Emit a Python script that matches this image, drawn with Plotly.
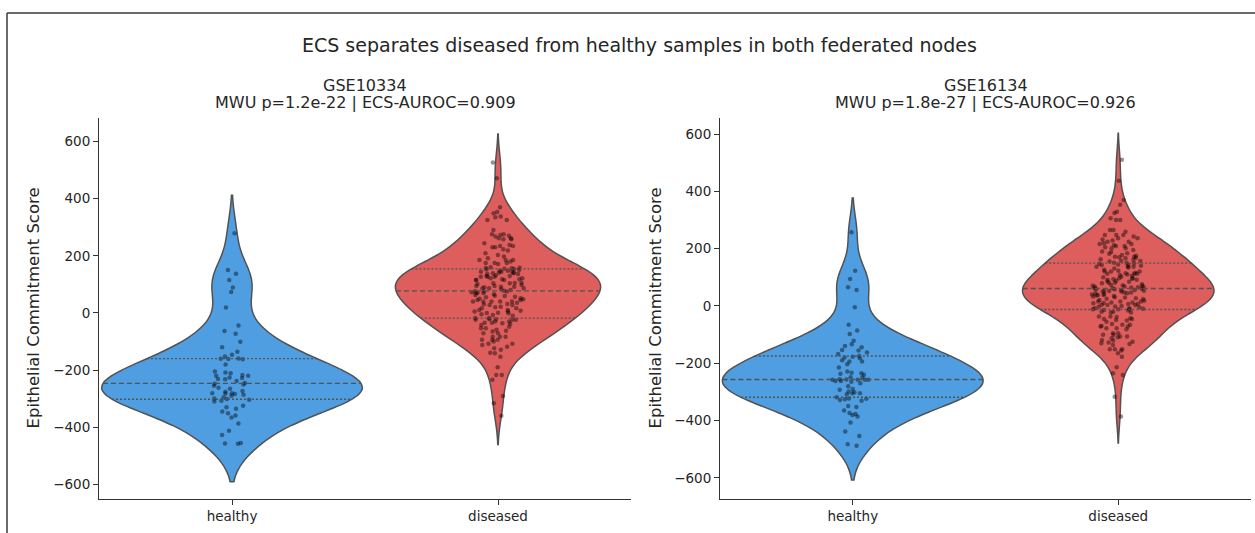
import math
import numpy as np
import plotly.graph_objects as go

# ---------------- data ----------------
categories = ["healthy", "diseased"]

gse10334_healthy = [279, 150, 137, 73, 115, 89, 19, -44, -63, -73, -101, -120, -136, -146,
                    -152, -161, -162, -160, -159, -180, -211, -205, -220, -220, -208, -226,
                    -217, -232, -231, -238, -245, -262, -250, -273, -276, -282, -284, -281,
                    -281, -286, -299, -310, -295, -301, -307, -304, -325, -330, -335, -345,
                    -351, -359, -366, -387, -412, -427, -455, -457, -458,
                    -255, -265, -290, -228, -248]

gse10334_diseased = [526, 471, 370, 353, 335, 337, 349, 325, 325, 290, 270, 275, 275, 273, 261,
                     258, 261, 258, 267, 244, 230, 230, 223, 238, 234, 234, 218, 209, 197, 203,
                     191, 185, 185, 180, 171, 156, 175, 160, 175, 158, 175, 155, 152, 185, 157,
                     154, 150, 144, 148, 141, 139, 148, 144, 136, 139, 136, 141, 127, 115, 104,
                     127, 115, 106, 127, 121, 129, 118, 121, 129, 104, 115, 101, 94, 86, 92, 83,
                     78, 71, 75, 90, 94, 86, 92, 98, 86, 80, 69, 75, 63, 51, 40, 57, 45, 59, 40,
                     48, 36, 45, 31, 40, 28, 40, 28, 16, 22, 8, 16, 5, 10, -1, 1, 5, -7, -24, -30,
                     -22, -34, -18, -42, -36, -24, -30, -38, -22, -34, -24, -18, -54, -62, -71,
                     -83, -54, -65, -48, -59, -71, -83, -94, -100, -94, -83, -108, -118, -112,
                     -108, -94, -129, -141, -153, -124, -139, -217, -190, -217, -234, -291, -316,
                     -360,
                     60, 70, 76, 0, -10, 30, 105, 118, 132, 145, 50, 40, 20, 65, 72, 10, -5, 55]

gse16134_healthy = [257, 56, 123, 94, 65, -5, -66, -86, -98, -134, -122, -140, -154, -144, -156,
                    -163, -180, -194, -168, -177, -194, -183, -204, -235, -237, -229, -233, -258,
                    -258, -258, -258, -249, -256, -262, -265, -257, -299, -293, -305, -301, -305,
                    -308, -326, -324, -331, -323, -328, -319, -349, -365, -353, -374, -377, -381,
                    -386, -407, -438, -454, -483, -488,
                    -250, -262, -270, -280, -240, -215, -190, -175, -290]

gse16134_diseased = [510, 437, 370, 353, 329, 324, 300, 306, 300, 259, 248, 265, 248, 224, 209, 216,
                     201, 265, 248, 236, 236, 219, 224, 209, 216, 201, 190, 184, 172, 166, 172, 163,
                     170, 161, 149, 140, 143, 137, 147, 137, 151, 143, 151, 137, 123, 114, 120, 112,
                     120, 112, 116, 108, 120, 112, 97, 88, 93, 85, 97, 81, 91, 79, 91, 81, 67, 62,
                     70, 56, 65, 58, 73, 62, 70, 65, 47, 38, 44, 50, 42, 47, 38, 53, 44, 50, 21, 12,
                     15, 7, 15, 3, 12, 3, 15, 7, -8, -16, -12, -20, -12, -23, -14, -20, -12, -23, -8,
                     -37, -46, -39, -49, -43, -51, -37, -46, -55, -72, -66, -78, -70, -81, -66, -78,
                     -72, -63, -101, -109, -95, -107, -113, -101, -107, -95, -130, -121, -128, -136,
                     -125, -133, -119, -151, -156, -151, -151, -165, -177, -214, -235, -241, -317,
                     -386,
                     155, 158, 178, 182, 195, 205, 212, 228, 242, 188, 168, 157, 175, 232,
                     64, 68, 72, 76, 84, 95, 102, 105, 110, 126, 131, 134, 145, 100,
                     -10, -5, -2, 0, 4, 9, 18, 24, 27, 30, 33, 35, 40, 52, 55, 58, 60, 25, 29, 36,
                     53, 10, -3]

panel_titles = ["GSE10334", "GSE16134"]
panel_stats = ["MWU p=1.2e-22 | ECS-AUROC=0.909", "MWU p=1.8e-27 | ECS-AUROC=0.926"]
main_title = "ECS separates diseased from healthy samples in both federated nodes"
y_label = "Epithelial Commitment Score"
y_ticks = [-600, -400, -200, 0, 200, 400, 600]

# ---------------- styling ----------------
W, H = 1255, 533
fill_colors = ["#4f9ee1", "#de5d5d"]
edge_color = "#525252"
text_color = "#262626"
axis_color = "#333333"
FONT = "DejaVu Sans"
# full violin widths (x data units) per panel: healthy, diseased
violin_widths = [[0.98, 0.77], [0.98, 0.72]]


def scott_bw(vals):
    x = np.asarray(vals, dtype=float)
    return len(x) ** (-1 / 5) * x.std(ddof=1)


def kde_on(vals, bw, t):
    x = np.asarray(vals, dtype=float)
    t = np.atleast_1d(np.asarray(t, dtype=float))
    return np.exp(-0.5 * ((t[:, None] - x[None, :]) / bw) ** 2).sum(1) / (len(x) * bw * math.sqrt(2 * math.pi))


def max_kde(vals, bw):
    x = np.asarray(vals, dtype=float)
    lo, hi = x.min() - 2 * bw, x.max() + 2 * bw
    n = math.ceil((hi - lo) / (bw / 3))
    grid = np.linspace(lo, hi, n + 1)
    return kde_on(vals, bw, grid).max()


fig = go.Figure()

panels = [
    (gse10334_healthy, gse10334_diseased, "x", "y"),
    (gse16134_healthy, gse16134_diseased, "x2", "y2"),
]

for pi, (healthy, diseased, xa, ya) in enumerate(panels):
    groups = [healthy, diseased]
    # violin bodies
    for pos, vals in enumerate(groups):
        bw = scott_bw(vals)
        fig.add_trace(go.Violin(x0=pos, y=vals, bandwidth=bw, spanmode="soft",
                                scalemode="width", scalegroup=f"p{pi}g{pos}",
                                width=violin_widths[pi][pos], fillcolor=fill_colors[pos],
                                line=dict(color=edge_color, width=1.5), opacity=1,
                                points=False, box=dict(visible=False),
                                meanline=dict(visible=False), hoverinfo="skip",
                                xaxis=xa, yaxis=ya))
    # quartile lines
    for pos, vals in enumerate(groups):
        bw = scott_bw(vals)
        mx = max_kde(vals, bw)
        half = violin_widths[pi][pos] / 2
        q1, q2, q3 = np.percentile(vals, [25, 50, 75])
        for q, dash in [(q1, "2px,2px"), (q2, "5px,3px"), (q3, "2px,2px")]:
            hw = kde_on(vals, bw, q)[0] / mx * half
            fig.add_trace(go.Scatter(x=[pos - hw, pos + hw], y=[q, q], mode="lines",
                                     line=dict(color=edge_color, width=1.4, dash=dash),
                                     hoverinfo="skip", xaxis=xa, yaxis=ya))
    # jittered sample points
    for pos, vals in enumerate(groups):
        fig.add_trace(go.Box(x0=pos, y=vals, boxpoints="all", jitter=1, pointpos=0, width=0.2,
                             fillcolor="rgba(0,0,0,0)",
                             line=dict(width=0, color="rgba(0,0,0,0)"),
                             marker=dict(color="rgba(0,0,0,0.42)", size=4.5),
                             hoverinfo="skip", xaxis=xa, yaxis=ya))

ax_common = dict(showline=True, linecolor=axis_color, linewidth=1.1, ticks="outside",
                 ticklen=5, tickwidth=1.1, tickcolor=axis_color, showgrid=False,
                 zeroline=False, tickfont=dict(family=FONT, size=13.5, color=text_color))

y_dom = [1 - 499 / H, 1 - 118 / H]
fig.update_layout(
    width=W, height=H, margin=dict(l=0, r=0, t=0, b=0),
    paper_bgcolor="white", plot_bgcolor="white", showlegend=False,
    violinmode="overlay", boxmode="overlay",
    font=dict(family=FONT, color=text_color),
    xaxis=dict(domain=[99 / W, 631 / W], range=[-0.5, 1.5], type="linear",
               tickvals=[0, 1], ticktext=categories, anchor="y", **ax_common),
    yaxis=dict(domain=y_dom, range=[-651, 682], tickvals=y_ticks, anchor="x", **ax_common),
    xaxis2=dict(domain=[720 / W, 1251 / W], range=[-0.5, 1.5], type="linear",
                tickvals=[0, 1], ticktext=categories, anchor="y2", **ax_common),
    yaxis2=dict(domain=y_dom, range=[-674, 656], tickvals=y_ticks, anchor="x2", **ax_common),
)

annotations = [
    dict(text=main_title, x=639 / W, y=1 - 45 / H, xref="paper", yref="paper",
         showarrow=False, xanchor="center", yanchor="middle",
         font=dict(family=FONT, size=19, color=text_color)),
]
for cx, t, s in zip([365 / W, 985.5 / W], panel_titles, panel_stats):
    annotations.append(dict(text=t, x=cx, y=1 - 85 / H, xref="paper", yref="paper",
                            showarrow=False, xanchor="center", yanchor="middle",
                            font=dict(family=FONT, size=16, color=text_color)))
    annotations.append(dict(text=s, x=cx, y=1 - 102 / H, xref="paper", yref="paper",
                            showarrow=False, xanchor="center", yanchor="middle",
                            font=dict(family=FONT, size=16, color=text_color)))
for lx in [33 / W, 655 / W]:
    annotations.append(dict(text=y_label, x=lx, y=1 - 308.5 / H, xref="paper", yref="paper",
                            showarrow=False, xanchor="center", yanchor="middle", textangle=-90,
                            font=dict(family=FONT, size=16.5, color=text_color)))
fig.update_layout(annotations=annotations)

# thin frame of the screenshot (left and top edges)
fig.update_layout(shapes=[
    dict(type="line", xref="paper", yref="paper", x0=7 / W, x1=1, y0=1 - 13 / H, y1=1 - 13 / H,
         line=dict(color="#3a3a3a", width=1.5)),
    dict(type="line", xref="paper", yref="paper", x0=7 / W, x1=7 / W, y0=0, y1=1 - 13 / H,
         line=dict(color="#3a3a3a", width=1.5)),
])

fig.write_html("out.html")
